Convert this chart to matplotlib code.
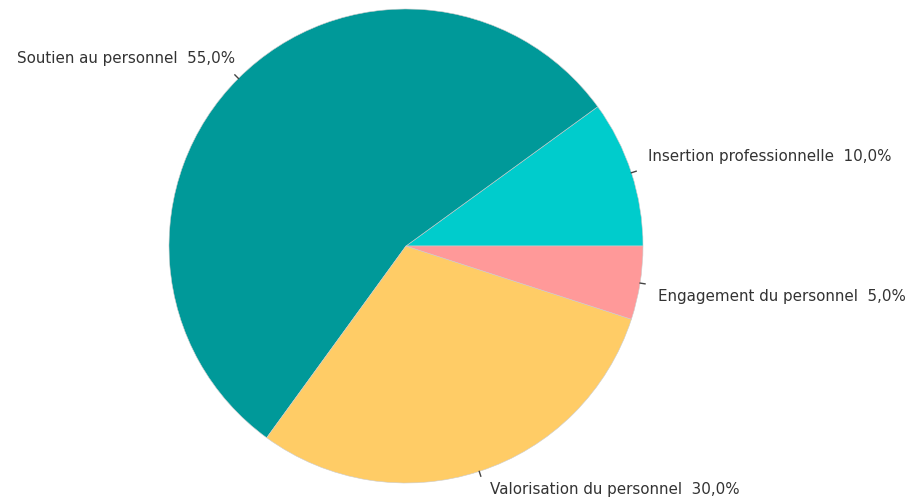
import matplotlib.pyplot as plt
import numpy as np

labels = ['Insertion professionnelle', 'Soutien au personnel',
          'Valorisation du personnel', 'Engagement du personnel']
values = [10.0, 55.0, 30.0, 5.0]
colors = ['#00CCCC', '#009999', '#FFCC66', '#FF9999']

# label offsets from the tick end, in pixels (x right, y up)
offsets = [(12, 15), (0, 16), (9, -13), (13, -13)]
aligns = ['left', 'right', 'left', 'left']

fig = plt.figure(figsize=(9.23, 5.0), dpi=100)
ax = fig.add_axes([0, 0, 1, 1])

cx, cy, r = 406, 254, 237
wedges, _ = ax.pie(values, colors=colors, startangle=0, counterclock=True,
                   center=(cx, cy), radius=r, frame=True,
                   wedgeprops=dict(linewidth=0.4, edgecolor='#cccccc'))
ax.set_xlim(0, 923)
ax.set_ylim(0, 500)
ax.set_aspect('equal')
ax.axis('off')

for w, lab, v, off, ha in zip(wedges, labels, values, offsets, aligns):
    ang = np.deg2rad((w.theta1 + w.theta2) / 2)
    x0, y0 = cx + r * np.cos(ang), cy + r * np.sin(ang)
    x1, y1 = cx + (r + 5) * np.cos(ang), cy + (r + 5) * np.sin(ang)
    ax.plot([x0, x1], [y0, y1], color='#444444', lw=1.0)
    txt = f"{lab}  {v:.1f}%".replace('.', ',')
    ax.annotate(txt, xy=(x1, y1), xytext=off, textcoords='offset pixels',
                ha=ha, va='center', fontsize=10.9, color='#333333',
                family='DejaVu Sans')

fig.savefig('out.png', dpi=100)
